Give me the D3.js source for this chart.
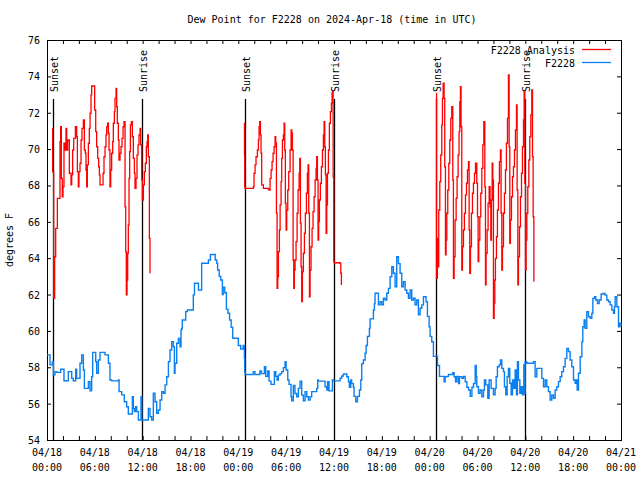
<!DOCTYPE html>
<html><head><meta charset="utf-8">
<script src="https://cdn.jsdelivr.net/npm/d3@7"></script>
<style>
body{margin:0;background:#fff}
text{font-family:"DejaVu Sans Mono","Liberation Mono",monospace;font-size:10px;fill:#000}
</style>
</head><body>
<svg id="chart" width="640" height="480"></svg>
<script>
// ---------- data ----------
const titleText = "Dew Point for F2228 on 2024-Apr-18 (time in UTC)";
const yLabelText = "degrees F";
const seriesNames = ["F2228 Analysis", "F2228"];
const startUTC = Date.UTC(2024, 3, 18); // 2024-04-18 00:00 UTC
const xDomainHours = [0, 72];
const yDomain = [54, 76];
const yTicks = [54, 56, 58, 60, 62, 64, 66, 68, 70, 72, 74, 76];
const xLabelHours = [0, 6, 12, 18, 24, 30, 36, 42, 48, 54, 60, 66, 72];
const xMinorStepHours = 2;
const sunsetHours = [0.79, 24.8, 48.85];
const sunriseHours = [11.96, 36.05, 60.01];
const markerTop = 72.75;

// F2228 observed dew point: [hours since 04/18 00:00 UTC, degF]
const stationSeries = [
[0.0,58.68],[0.17,58.68],[0.38,58.13],[0.59,58.13],[0.67,58.31],[0.8,57.58],[1.0,57.76],[1.21,57.72],[1.63,57.72],[1.71,57.89],[1.92,57.89],
[2.13,57.26],[2.47,57.26],[2.68,57.76],[2.89,57.76],[3.1,57.39],[3.3,57.26],[3.51,57.26],[3.6,57.89],[3.72,57.39],[3.93,57.39],
[4.14,58.22],[4.35,58.68],[4.56,57.85],[4.69,56.84],[4.98,56.84],[5.19,57.21],[5.4,56.7],[5.6,57.48],[5.73,58.82],[5.94,58.82],
[6.11,58.31],[6.23,57.67],[6.44,58.4],[6.65,58.82],[7.07,58.82],[7.28,58.68],[7.49,58.68],[7.7,58.22],[7.9,57.3],[8.11,57.25],[8.74,57.25],
[8.95,57.3],[9.04,56.66],[9.37,56.48],[9.7,56.1],[9.99,55.83],[10.2,55.43],[10.54,55.43],[10.71,56.38],[10.83,55.74],[10.96,55.56],
[11.13,55.83],[11.25,55.56],[11.46,55.1],[11.75,55.1],[11.79,56.38],[11.88,55.1],[12.5,55.1],[12.71,55.74],[12.92,55.28],[13.13,55.1],
[13.34,56.57],[13.55,56.1],[13.76,55.47],[13.97,55.65],[14.18,56.2],[14.39,56.66],[14.6,56.57],[14.81,57.03],[15.02,57.48],[15.23,58.31],
[15.43,58.95],[15.64,59.41],[15.85,59.13],[15.98,57.67],[16.06,58.22],[16.27,59.32],[16.48,59.59],[16.69,59.13],[16.81,60.05],[16.9,60.14],
[16.97,60.6],[17.4,61.06],[17.6,61.15],[18.1,61.15],[18.35,61.98],[18.5,62.62],[18.8,62.62],[19.0,62.25],[19.25,62.25],[19.4,63.72],
[20.0,63.72],[20.25,63.9],[20.5,64.2],[21.0,64.2],[21.1,63.9],[21.3,63.72],[21.4,63.35],[21.6,63.0],[21.8,62.8],[22.0,62.0],[22.1,62.4],
[22.3,62.1],[22.5,61.2],[22.7,60.97],[22.9,60.6],[23.1,60.2],[23.3,59.6],[23.8,59.6],[24.0,59.2],[24.3,59.0],[24.6,59.2],[24.76,58.5],
[24.8,57.76],[24.84,57.6],[25.67,57.6],[25.87,57.76],[26.08,57.6],[26.5,57.6],[26.7,57.8],[26.9,57.65],[27.27,58.03],[27.44,57.5],
[27.69,57.8],[27.85,57.24],[28.1,57.06],[28.4,57.06],[28.52,57.76],[28.69,57.5],[28.86,57.3],[29.02,57.57],[29.23,57.65],[29.44,57.76],
[29.65,57.98],[29.86,58.3],[29.99,57.85],[30.2,57.3],[30.36,57.06],[30.61,56.38],[30.7,56.15],[30.9,57.0],[31.1,56.56],[31.32,56.38],
[31.53,56.84],[31.74,57.24],[31.95,56.47],[32.16,56.15],[32.37,56.66],[32.58,56.38],[32.79,56.2],[33.0,56.38],[33.2,56.66],[33.6,56.66],
[33.83,56.84],[33.96,57.3],[34.04,57.24],[34.67,57.24],[34.88,56.93],[35.1,56.75],[35.2,57.2],[35.37,56.7],[35.62,56.7],[35.8,57.3],
[35.93,57.25],[36.55,57.25],[36.76,57.4],[36.97,57.52],[37.18,57.63],[37.39,57.63],[37.6,57.48],[37.81,57.2],[37.93,56.9],[38.1,57.3],
[38.22,57.1],[38.43,56.9],[38.52,56.4],[38.73,56.1],[38.94,56.4],[39.19,56.75],[39.36,57.3],[39.48,58.2],[39.69,58.4],[39.9,58.77],
[40.03,59.2],[40.19,59.7],[40.44,60.14],[40.53,60.66],[40.86,60.66],[40.94,61.15],[41.07,61.5],[41.15,62.07],[41.45,62.07],[41.57,61.43],
[41.78,61.6],[41.99,61.43],[42.2,61.8],[42.41,61.7],[42.62,62.07],[42.83,62.34],[43.04,62.98],[43.25,63.53],[43.45,63.17],[43.66,62.43],
[43.87,64.08],[44.08,63.7],[44.29,63.17],[44.5,62.43],[44.71,62.7],[44.92,62.25],[45.13,62.07],[45.34,61.8],[45.55,62.25],[45.75,61.7],
[45.96,61.8],[46.17,61.43],[46.38,61.7],[46.59,60.88],[46.8,61.25],[47.01,61.43],[47.22,61.88],[47.43,61.88],[47.55,61.6],[47.72,60.8],
[47.93,60.23],[48.05,59.7],[48.26,59.4],[48.47,58.6],[48.81,58.6],[48.98,58.1],[49.23,57.5],[49.73,57.5],[49.81,57.2],[49.94,57.48],
[50.15,57.5],[50.36,57.6],[50.78,57.6],[50.9,57.7],[51.07,57.48],[51.24,57.2],[51.41,57.5],[51.62,57.1],[51.74,57.48],[52.04,57.4],
[52.25,57.5],[52.46,57.2],[52.67,56.9],[52.88,56.75],[53.09,56.4],[53.3,56.9],[53.5,57.1],[53.71,58.1],[53.84,57.5],[53.91,56.93],
[54.12,56.57],[54.33,56.75],[54.54,56.38],[54.75,56.75],[54.87,57.3],[55.04,57.03],[55.29,56.29],[55.46,57.3],[55.71,56.84],[56.0,56.48],
[56.21,56.84],[56.34,57.48],[56.5,58.03],[56.71,58.13],[56.88,58.4],[57.05,57.94],[57.26,57.76],[57.38,56.93],[57.55,56.48],[57.72,57.48],
[57.88,57.94],[58.05,57.12],[58.22,56.48],[58.39,57.3],[58.55,56.84],[58.72,57.85],[58.89,56.48],[59.01,58.31],[59.14,57.3],[59.31,56.57],
[59.47,56.93],[59.64,56.48],[59.81,58.13],[59.89,56.57],[59.97,58.31],[60.18,58.22],[60.81,58.22],[61.02,58.31],[61.23,57.48],[61.44,57.94],
[61.86,57.94],[62.07,57.39],[62.28,56.93],[62.49,57.3],[62.69,56.93],[62.9,56.66],[63.11,56.2],[63.32,56.48],[63.53,56.29],[63.74,56.75],
[63.95,56.93],[64.16,57.21],[64.37,57.48],[64.57,57.76],[64.78,58.03],[64.99,58.49],[65.2,59.04],[65.41,58.86],[65.62,58.4],[65.83,58.03],
[66.04,57.3],[66.25,57.12],[66.37,57.3],[66.5,56.75],[66.67,57.67],[66.88,58.58],[67.09,59.41],[67.21,60.23],[67.38,60.6],[67.5,60.14],
[67.71,61.06],[67.92,60.78],[68.13,60.69],[68.34,60.97],[68.47,61.79],[68.68,61.88],[68.84,61.7],[69.05,61.5],[69.26,61.7],[69.51,62.03],
[69.8,62.06],[70.01,61.97],[70.22,61.7],[70.43,61.6],[70.64,61.43],[70.85,61.15],[71.06,60.97],[71.18,61.33],[71.27,61.88],[71.48,61.33],
[71.69,60.23],[71.81,60.42],[72.0,60.23]
];

// F2228 Analysis, one array per night: [hours, degF]
const analysisNight1 = [
[0.67,71.14],[0.71,68.76],[0.84,61.79],[0.96,64.08],[1.09,65.64],[1.30,67.29],[1.55,67.29],[1.63,70.41],[1.71,71.23],[1.80,68.39],[1.92,67.38],
[2.01,67.93],[2.13,70.32],[2.26,69.95],[2.38,71.14],[2.47,69.95],[2.59,70.50],[2.80,68.67],[3.01,68.03],[3.10,68.58],[3.22,69.95],[3.35,70.59],
[3.56,71.23],[3.72,70.68],[3.81,68.76],[3.93,67.93],[4.01,68.76],[4.14,69.22],[4.27,70.50],[4.39,71.14],[4.56,71.60],[4.69,69.95],[4.81,69.77],
[4.89,68.85],[4.98,67.93],[5.06,69.13],[5.19,70.32],[5.31,71.14],[5.40,71.97],[5.52,72.98],[5.60,73.47],[5.90,73.47],[5.98,72.15],[6.11,70.96],
[6.23,70.13],[6.36,69.49],[6.48,69.03],[6.57,68.58],[6.65,68.03],[6.94,68.03],[7.03,68.67],[7.15,69.58],[7.28,70.13],[7.40,70.78],[7.49,71.23],
[7.61,71.42],[7.70,70.87],[7.78,69.95],[7.90,67.93],[7.99,68.85],[8.11,69.77],[8.24,70.41],[8.32,71.42],[8.45,72.06],[8.53,72.79],[8.66,73.34],
[8.74,72.33],[8.82,71.42],[8.95,70.50],[9.03,69.40],[9.16,69.77],[9.28,70.13],[9.41,70.59],[9.54,71.23],[9.66,71.51],[9.79,66.83],[9.87,64.36],
[9.95,61.98],[10.04,62.80],[10.12,64.27],[10.20,65.83],[10.29,68.39],[10.37,69.86],[10.46,71.33],[10.58,71.51],[10.71,70.68],[10.83,69.49],
[10.96,68.67],[11.04,67.84],[11.17,68.39],[11.29,69.68],[11.42,70.23],[11.54,70.78],[11.67,71.14],[11.75,70.23],[11.88,68.30],[11.96,67.20],
[12.09,68.03],[12.21,68.76],[12.34,69.22],[12.46,70.13],[12.55,70.41],[12.63,70.78],[12.71,69.58],[12.84,65.09],[12.92,63.17]
];
const analysisNight2 = [
[24.76,71.42],[24.77,69.68],[24.80,67.93],[24.84,67.84],[25.81,67.84],[25.89,67.93],[25.97,68.67],[26.10,69.13],[26.22,69.58],[26.39,69.95],
[26.52,70.50],[26.60,71.23],[26.68,71.51],[26.77,70.78],[26.85,69.77],[26.93,68.03],[27.14,67.84],[27.77,67.79],[27.86,67.75],[27.98,68.39],
[28.11,68.85],[28.23,69.31],[28.36,69.77],[28.48,70.13],[28.61,70.68],[28.69,70.32],[28.78,66.47],[28.86,62.34],[28.94,62.98],[29.03,64.36],
[29.15,65.55],[29.24,66.93],[29.36,68.21],[29.44,69.49],[29.53,70.50],[29.65,70.78],[29.74,71.42],[29.82,69.95],[29.90,67.02],[29.99,65.55],
[30.07,66.65],[30.20,67.75],[30.32,68.76],[30.49,69.95],[30.62,71.05],[30.70,70.87],[30.78,69.95],[30.87,63.90],[30.95,62.34],[31.03,63.35],
[31.12,63.90],[31.24,64.91],[31.37,66.47],[31.49,67.75],[31.62,68.67],[31.70,69.49],[31.79,65.92],[31.87,63.53],[31.95,61.61],[32.04,63.26],
[32.16,64.27],[32.29,65.37],[32.41,66.47],[32.54,67.57],[32.66,68.67],[32.75,69.13],[32.83,66.47],[32.92,61.88],[33.00,63.35],[33.12,64.63],
[33.25,65.64],[33.37,66.56],[33.50,67.38],[33.63,68.30],[33.75,68.94],[33.83,69.58],[33.92,68.30],[34.00,65.00],[34.08,66.01],[34.17,67.20],
[34.29,68.12],[34.42,69.03],[34.55,69.95],[34.67,70.78],[34.76,71.51],[34.84,70.13],[34.92,68.58],[35.01,65.37],[35.09,66.93],[35.18,68.67],
[35.30,69.95],[35.42,71.42],[35.55,72.06],[35.68,72.52],[35.76,73.07],[35.80,73.16],[35.89,68.48],[35.97,63.81],[36.05,63.75],[36.76,63.72],
[36.85,63.17],[36.93,62.53]
];
const analysisNight3 = [
[48.85,73.07],[48.86,62.89],[48.97,65.09],[49.06,63.53],[49.14,66.65],[49.27,68.21],[49.39,69.68],[49.52,71.33],[49.60,72.79],[49.69,73.62],
[49.81,72.79],[49.89,69.03],[49.98,64.18],[50.06,65.00],[50.15,66.47],[50.27,67.75],[50.40,69.22],[50.52,70.50],[50.65,71.69],[50.77,72.33],
[50.90,68.30],[50.98,62.89],[51.07,64.08],[51.19,66.10],[51.32,67.29],[51.44,68.48],[51.57,69.68],[51.69,70.96],[51.78,72.61],[51.86,73.43],
[51.94,71.23],[52.03,63.35],[52.11,64.63],[52.24,65.55],[52.36,66.47],[52.49,67.48],[52.62,68.12],[52.74,68.85],[52.87,69.31],[52.95,65.55],
[53.03,63.17],[53.12,64.63],[53.24,66.47],[53.37,67.57],[53.49,68.12],[53.62,68.67],[53.75,69.22],[53.91,68.12],[54.00,66.28],[54.08,63.81],
[54.16,65.00],[54.29,66.28],[54.41,67.57],[54.54,68.94],[54.67,70.23],[54.79,71.51],[54.92,67.93],[55.00,62.53],[55.08,64.27],[55.21,65.55],
[55.33,67.02],[55.46,67.93],[55.58,66.83],[55.67,65.00],[55.75,67.20],[55.84,69.22],[55.92,68.30],[56.00,60.69],[56.09,61.52],[56.17,62.80],
[56.25,63.99],[56.38,65.18],[56.50,66.65],[56.63,68.12],[56.75,69.31],[56.88,69.95],[56.96,66.47],[57.05,63.35],[57.13,64.63],[57.26,66.47],
[57.38,67.57],[57.51,68.85],[57.63,70.32],[57.76,71.69],[57.88,74.08],[57.97,70.13],[58.05,64.82],[58.13,66.10],[58.26,67.38],[58.39,68.48],
[58.51,69.03],[58.64,69.95],[58.76,71.05],[58.89,72.43],[58.97,67.75],[59.06,62.53],[59.14,64.08],[59.27,65.73],[59.39,67.38],[59.52,68.67],
[59.64,70.13],[59.77,71.60],[59.85,73.16],[59.94,68.12],[60.02,63.35],[60.10,65.00],[60.19,66.47],[60.31,67.93],[60.44,69.40],[60.56,70.68],
[60.69,71.88],[60.81,73.25],[60.90,69.58],[60.98,66.28],[61.07,62.71]
];
const analysisNights = [analysisNight1, analysisNight2, analysisNight3];

// ---------- drawing ----------
const toDate = h => new Date(startUTC + h * 3600e3);
const W = 640, H = 480;
const plot = {left: 47, right: 621, top: 40, bottom: 440};
const colorAnalysis = "#ff0000", colorStation = "#0a7ff0";

const svg = d3.select("#chart");
svg.append("rect").attr("width", W).attr("height", H).attr("fill", "#fff");

const x = d3.scaleUtc().domain(xDomainHours.map(toDate)).range([plot.left, plot.right]);
const y = d3.scaleLinear().domain(yDomain).range([plot.bottom, plot.top]);

svg.append("text").attr("x", 332).attr("y", 23).attr("text-anchor", "middle").text(titleText);
svg.append("text").attr("transform", `translate(13,${(plot.top + plot.bottom) / 2}) rotate(-90)`)
  .attr("text-anchor", "middle").text(yLabelText);

const minorTicks = d3.range(xDomainHours[0], xDomainHours[1] + 0.001, xMinorStepHours).map(toDate);
const tk = 4;
function styleAxis(g) { g.select(".domain").remove(); g.selectAll(".tick line").attr("stroke", "#000"); }
svg.append("g").attr("transform", `translate(0,${plot.bottom})`)
  .call(d3.axisBottom(x).tickValues(minorTicks).tickSize(-tk).tickFormat("")).call(styleAxis);
svg.append("g").attr("transform", `translate(0,${plot.top})`)
  .call(d3.axisTop(x).tickValues(minorTicks).tickSize(-tk).tickFormat("")).call(styleAxis);
const yl = svg.append("g").attr("transform", `translate(${plot.left},0)`)
  .call(d3.axisLeft(y).tickValues(yTicks).tickSize(-tk).tickPadding(7).tickFormat(d3.format("d"))).call(styleAxis);
yl.selectAll("text").attr("dy", "0.35em");
svg.append("g").attr("transform", `translate(${plot.right},0)`)
  .call(d3.axisRight(y).tickValues(yTicks).tickSize(-tk).tickFormat("")).call(styleAxis);
svg.selectAll("g").attr("font-size", null).attr("font-family", null);

const fmtDay = d3.utcFormat("%m/%d"), fmtTime = d3.utcFormat("%H:%M");
const xl = svg.append("g");
xLabelHours.forEach(h => {
  const d = toDate(h);
  xl.append("text").attr("x", x(d)).attr("y", 456).attr("text-anchor", "middle").text(fmtDay(d));
  xl.append("text").attr("x", x(d)).attr("y", 471).attr("text-anchor", "middle").text(fmtTime(d));
});

// frame
svg.append("rect").attr("x", plot.left + 0.5).attr("y", plot.top + 0.5)
  .attr("width", plot.right - plot.left).attr("height", plot.bottom - plot.top)
  .attr("fill", "none").attr("stroke", "#000").attr("stroke-width", 1);

// sunrise / sunset markers
const markers = sunsetHours.map(h => ({h, label: "Sunset"})).concat(sunriseHours.map(h => ({h, label: "Sunrise"})));
markers.forEach(m => {
  const px = Math.round(x(toDate(m.h))) + 0.5;
  svg.append("line").attr("x1", px).attr("x2", px).attr("y1", y(markerTop)).attr("y2", y(yDomain[0]))
    .attr("stroke", "#000").attr("stroke-width", 1.3);
  svg.append("text").attr("transform", `translate(${px + 4.5},${y(markerTop) - 7}) rotate(-90)`).text(m.label);
});

const stepLine = d3.line().x(d => x(toDate(d[0]))).y(d => y(d[1])).curve(d3.curveStepAfter);
svg.append("path").datum(stationSeries).attr("d", stepLine)
  .attr("fill", "none").attr("stroke", colorStation).attr("stroke-width", 1.4);
analysisNights.forEach(n => {
  svg.append("path").datum(n).attr("d", stepLine)
    .attr("fill", "none").attr("stroke", colorAnalysis).attr("stroke-width", 1.3);
});

// legend
const lg = svg.append("g");
[[seriesNames[0], colorAnalysis, 50], [seriesNames[1], colorStation, 63]].forEach(([name, c, ly]) => {
  lg.append("text").attr("x", 575).attr("y", ly + 3.5).attr("text-anchor", "end").text(name);
  lg.append("line").attr("x1", 582).attr("x2", 611).attr("y1", ly - 0.5).attr("y2", ly - 0.5)
    .attr("stroke", c).attr("stroke-width", 1.3);
});
</script>
</body></html>
